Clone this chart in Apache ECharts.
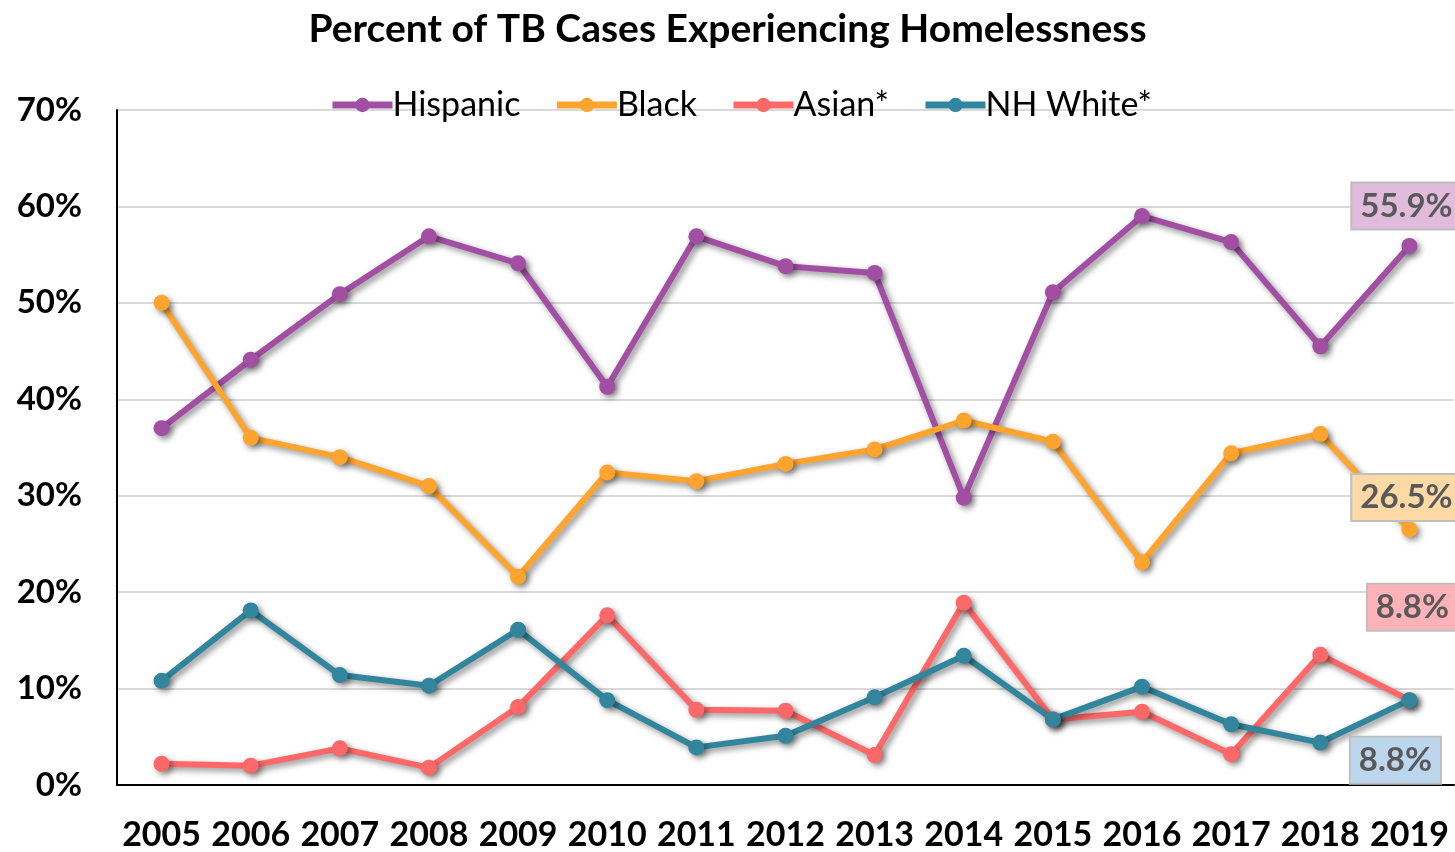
<!DOCTYPE html>
<html>
<head>
<meta charset="utf-8">
<script src="https://cdn.jsdelivr.net/npm/echarts@6/dist/echarts.min.js"></script>
<style>
    html, body {margin: 0; padding: 0; background: #fff;}
    #chart {width: 1455px; height: 852px;}
</style>
</head>
<body>
<div id="chart"></div>
<script>
const years = ['2005', '2006', '2007', '2008', '2009', '2010', '2011', '2012', '2013', '2014', '2015', '2016', '2017', '2018', '2019'];
const yTicks = [0, 10, 20, 30, 40, 50, 60, 70];

const hispanic = [37.0, 44.1, 50.9, 56.9, 54.1, 41.3, 56.9, 53.8, 53.1, 29.8, 51.1, 59.0, 56.3, 45.5, 55.9];
const black = [50.0, 36.0, 34.0, 31.0, 21.6, 32.4, 31.5, 33.3, 34.8, 37.8, 35.6, 23.1, 34.4, 36.4, 26.5];
const asian = [2.2, 2.0, 3.8, 1.8, 8.1, 17.6, 7.8, 7.7, 3.1, 18.9, 6.8, 7.6, 3.2, 13.5, 8.8];
const nhWhite = [10.8, 18.1, 11.4, 10.3, 16.1, 8.8, 3.9, 5.1, 9.1, 13.4, 6.8, 10.2, 6.3, 4.4, 8.8];

const fontFam = 'Lato, "Open Sans", sans-serif';

// last point gets a callout box
function withLastLabel(values, bg, offset) {
    return values.map(function (v, i) {
        if (i !== values.length - 1) return v;
        return {
            value: v,
            label: {
                show: true,
                position: 'inside',
                offset: offset,
                formatter: function (p) { return p.value.toFixed(1) + '%'; },
                fontFamily: fontFam,
                fontWeight: 'bold',
                fontSize: 33,
                color: '#595959',
                backgroundColor: bg,
                borderColor: '#BFBFBF',
                borderWidth: 2,
                padding: [8, 8, 4, 8]
            }
        };
    });
}

function makeSeries(name, color, values, bg, offset) {
    return {
        name: name,
        type: 'line',
        data: withLastLabel(values, bg, offset),
        symbol: 'circle',
        symbolSize: 16,
        z: 3,
        lineStyle: {
            width: 6,
            color: color,
            shadowColor: 'rgba(0,0,0,0.45)',
            shadowBlur: 6,
            shadowOffsetX: 3,
            shadowOffsetY: 3
        },
        itemStyle: {
            color: color,
            shadowColor: 'rgba(0,0,0,0.45)',
            shadowBlur: 6,
            shadowOffsetX: 3,
            shadowOffsetY: 3
        },
        emphasis: {disabled: true}
    };
}

let chart = echarts.init(document.getElementById('chart'));

let option = {
    animation: false,
    backgroundColor: '#fff',
    title: {
        text: 'Percent of TB Cases Experiencing Homelessness',
        left: 'center',
        top: 5,
        textStyle: {
            fontFamily: fontFam,
            fontWeight: 'bold',
            fontSize: 39,
            color: '#000'
        }
    },
    legend: {
        top: 83,
        left: 324,
        itemWidth: 60,
        itemHeight: 18,
        itemGap: 33,
        lineStyle: {width: 7, shadowBlur: 0, shadowOffsetX: 0, shadowOffsetY: 0},
        itemStyle: {shadowBlur: 0, shadowOffsetX: 0, shadowOffsetY: 0},
        textStyle: {
            fontFamily: fontFam,
            fontSize: 34,
            color: '#000',
            padding: [0, 0, 0, -5]
        },
        data: ['Hispanic', 'Black', 'Asian*', 'NH White*']
    },
    grid: {
        left: 117,
        right: 1,
        top: 110,
        bottom: 63,
        containLabel: false
    },
    xAxis: {
        type: 'category',
        data: years,
        boundaryGap: true,
        axisLine: {lineStyle: {color: '#000', width: 2}},
        axisTick: {show: false},
        axisLabel: {
            interval: 0,
            hideOverlap: false,
            margin: 33,
            fontFamily: fontFam,
            fontWeight: 'bold',
            fontSize: 34,
            color: '#000'
        }
    },
    yAxis: {
        type: 'value',
        min: yTicks[0],
        max: yTicks[yTicks.length - 1],
        interval: 10,
        axisLine: {show: true, lineStyle: {color: '#000', width: 2}},
        axisTick: {show: false},
        splitLine: {lineStyle: {color: '#D9D9D9', width: 2}},
        axisLabel: {
            margin: 35,
            fontFamily: fontFam,
            fontWeight: 'bold',
            fontSize: 33,
            color: '#000',
            formatter: '{value}%'
        }
    },
    series: [
        makeSeries('Hispanic', '#A24FA3', hispanic, '#E0BBDC', [-3, -40]),
        makeSeries('Black', '#FFA42E', black, '#FDD9A5', [-3, -32]),
        makeSeries('Asian*', '#FF6868', asian, '#FFB3B8', [3, -93]),
        makeSeries('NH White*', '#31859C', nhWhite, '#BCD6EE', [-14, 60])
    ]
};

chart.setOption(option);
</script>
</body>
</html>
